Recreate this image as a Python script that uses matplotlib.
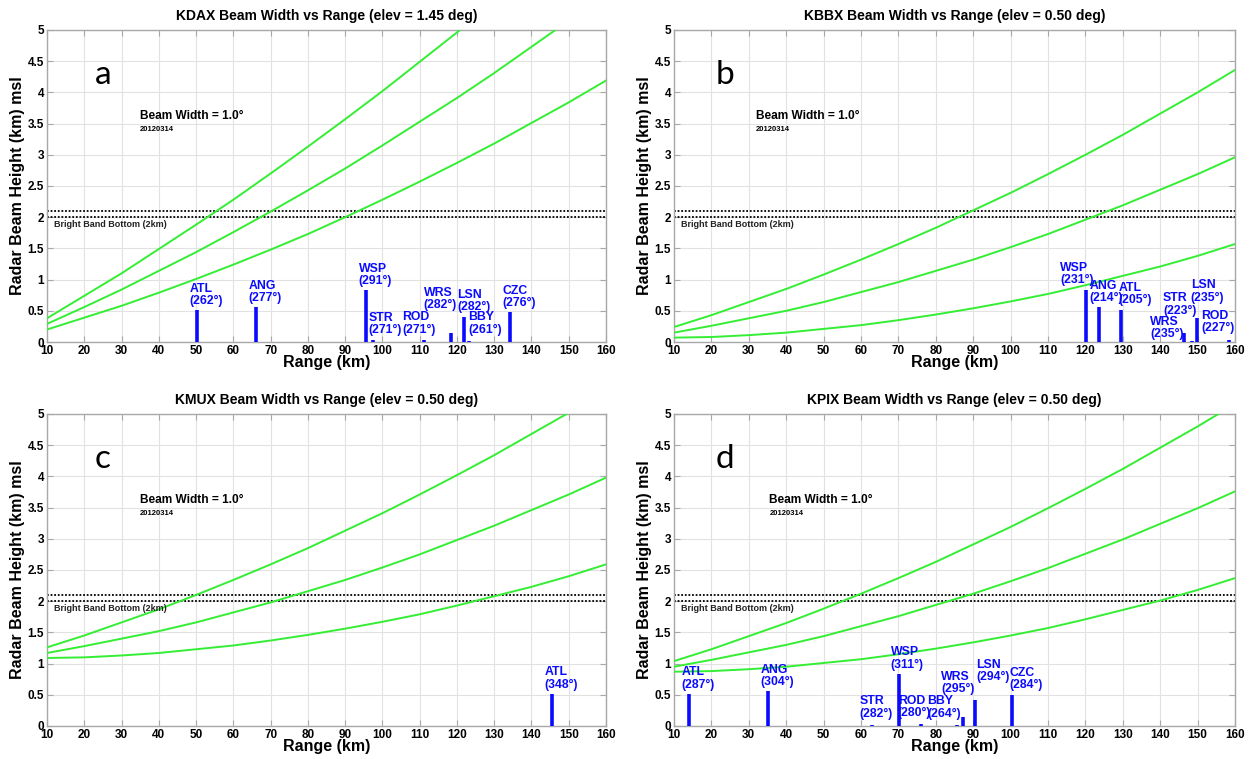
import matplotlib
matplotlib.use("Agg")
import matplotlib.pyplot as plt

plt.rcParams['font.family'] = ['Liberation Sans', 'DejaVu Sans']

# Range samples (km) for the beam-height curves
ranges = [10, 20, 30, 40, 50, 60, 70, 80, 90, 100, 110, 120, 130, 140, 150, 160]

# Beam heights (km msl): upper edge, centre, lower edge of a 1.0 deg beam
kdax_upper = [0.38, 0.74, 1.10, 1.49, 1.88, 2.28, 2.70, 3.13, 3.57, 4.02, 4.49, 4.96, 5.45]
kdax_center = [0.29, 0.56, 0.84, 1.14, 1.44, 1.76, 2.09, 2.43, 2.78, 3.15, 3.53, 3.91, 4.31, 4.73, 5.15]
kdax_lower = [0.20, 0.39, 0.58, 0.79, 1.01, 1.24, 1.48, 1.73, 2.00, 2.28, 2.57, 2.87, 3.18, 3.51, 3.84, 4.19]

kbbx_upper = [0.24, 0.43, 0.64, 0.85, 1.08, 1.32, 1.57, 1.83, 2.11, 2.39, 2.69, 3.00, 3.32, 3.66, 4.00, 4.36]
kbbx_center = [0.15, 0.26, 0.38, 0.50, 0.64, 0.80, 0.96, 1.14, 1.32, 1.52, 1.73, 1.96, 2.19, 2.44, 2.69, 2.96]
kbbx_lower = [0.07, 0.08, 0.11, 0.15, 0.21, 0.27, 0.35, 0.44, 0.54, 0.65, 0.77, 0.91, 1.06, 1.21, 1.38, 1.57]

kmux_upper = [1.26, 1.45, 1.66, 1.87, 2.10, 2.34, 2.59, 2.85, 3.13, 3.41, 3.71, 4.02, 4.34, 4.68, 5.02]
kmux_center = [1.17, 1.28, 1.40, 1.52, 1.66, 1.82, 1.98, 2.16, 2.34, 2.54, 2.75, 2.98, 3.21, 3.46, 3.71, 3.98]
kmux_lower = [1.09, 1.10, 1.13, 1.17, 1.23, 1.29, 1.37, 1.46, 1.56, 1.67, 1.79, 1.93, 2.08, 2.23, 2.40, 2.59]

kpix_upper = [1.04, 1.23, 1.44, 1.65, 1.88, 2.12, 2.37, 2.63, 2.91, 3.19, 3.49, 3.80, 4.12, 4.46, 4.80, 5.16]
kpix_center = [0.95, 1.06, 1.18, 1.30, 1.44, 1.60, 1.76, 1.94, 2.12, 2.32, 2.53, 2.76, 2.99, 3.24, 3.49, 3.76]
kpix_lower = [0.87, 0.88, 0.91, 0.95, 1.01, 1.07, 1.15, 1.24, 1.34, 1.45, 1.57, 1.71, 1.86, 2.01, 2.18, 2.37]

# Surface sites: range from radar (km), site altitude (km), azimuth (deg)
kdax_sites = ['ATL', 'ANG', 'WSP', 'STR', 'ROD', 'WRS', 'LSN', 'BBY', 'CZC']
kdax_site_range = [50.2, 66.0, 95.5, 97.6, 111.2, 118.3, 121.9, 123.3, 134.2]
kdax_site_alt = [0.51, 0.56, 0.83, 0.03, 0.04, 0.14, 0.40, 0.02, 0.48]
kdax_site_az = [262, 277, 291, 271, 271, 282, 282, 261, 276]

kbbx_sites = ['WSP', 'ANG', 'ATL', 'WRS', 'STR', 'LSN', 'ROD']
kbbx_site_range = [120.2, 123.7, 129.4, 146.4, 148.5, 149.8, 158.5]
kbbx_site_alt = [0.83, 0.56, 0.51, 0.14, 0.02, 0.39, 0.03]
kbbx_site_az = [231, 214, 205, 235, 223, 235, 227]

kmux_sites = ['ATL']
kmux_site_range = [145.4]
kmux_site_alt = [0.52]
kmux_site_az = [348]

kpix_sites = ['ATL', 'ANG', 'STR', 'WSP', 'ROD', 'BBY', 'WRS', 'LSN', 'CZC']
kpix_site_range = [14.1, 35.2, 62.9, 70.1, 76.0, 85.8, 87.4, 90.6, 100.3]
kpix_site_alt = [0.52, 0.56, 0.02, 0.84, 0.03, 0.02, 0.14, 0.41, 0.49]
kpix_site_az = [287, 304, 282, 311, 280, 264, 295, 294, 284]

radars = ['KDAX', 'KBBX', 'KMUX', 'KPIX']
elevations = ['1.45', '0.50', '0.50', '0.50']
panel_letters = ['a', 'b', 'c', 'd']
bright_band_km = 2.0
bright_band_top_km = 2.1

# label nudges (pixels) so crowded site names do not collide
kdax_label_shift = [(-7, 3), (-7, 3), (-7, 3), (-5, 4), (-22, 4), (-27, 22), (-7, 4), (-1, 5), (-7, 3)]
kbbx_label_shift = [(-26, 4), (-10, 3), (-2, 4), (-34, -7), (-29, 24), (-6, 14), (-28, 6)]
kmux_label_shift = [(-7, 3)]
kpix_label_shift = [(-8, 3), (-8, 3), (-12, 5), (-8, 3), (-23, 5), (-30, 5), (-22, 22), (1, 17), (-2, 4)]

panels = [
    (kdax_upper, kdax_center, kdax_lower, kdax_sites, kdax_site_range, kdax_site_alt, kdax_site_az, kdax_label_shift),
    (kbbx_upper, kbbx_center, kbbx_lower, kbbx_sites, kbbx_site_range, kbbx_site_alt, kbbx_site_az, kbbx_label_shift),
    (kmux_upper, kmux_center, kmux_lower, kmux_sites, kmux_site_range, kmux_site_alt, kmux_site_az, kmux_label_shift),
    (kpix_upper, kpix_center, kpix_lower, kpix_sites, kpix_site_range, kpix_site_alt, kpix_site_az, kpix_label_shift),
]

W, H = 1255, 759
fig = plt.figure(figsize=(W / 100, H / 100), dpi=100)
boxes = [(47, 30, 606, 342), (674, 30, 1235, 342), (47, 414, 606, 726), (674, 414, 1235, 726)]
beam_text_x = [35, 32, 35, 35.5]
letter_x = [22.9, 21.0, 22.9, 21.0]

green = '#33ee33'
blue = '#0a0aff'
spine_gray = '#a8a8a8'

for i, (up, mid, low, sites, srng, salt, saz, shift) in enumerate(panels):
    x0, y0, x1, y1 = boxes[i]
    ax = fig.add_axes([x0 / W, 1 - y1 / H, (x1 - x0) / W, (y1 - y0) / H])
    ax.set_xlim(10, 160)
    ax.set_ylim(0, 5)
    ax.set_xticks(range(10, 161, 10))
    ax.set_yticks([k * 0.5 for k in range(11)])
    ax.set_yticklabels(['%g' % (k * 0.5) for k in range(11)])
    ax.grid(True, color='#e2e2e2', lw=0.8)
    ax.set_axisbelow(True)
    for s in ax.spines.values():
        s.set_color(spine_gray)
        s.set_linewidth(1.0)
    ax.tick_params(direction='in', length=4, width=0.8, color=spine_gray,
                   top=True, right=True, labelsize=8.5, pad=2)
    for lab in ax.get_xticklabels() + ax.get_yticklabels():
        lab.set_fontweight('bold')

    for curve in (up, mid, low):
        ax.plot(ranges[:len(curve)], curve, color=green, lw=1.4, zorder=3)

    ax.axhline(bright_band_km, color='black', lw=1.3, ls=(0, (1, 1)), zorder=2)
    ax.axhline(bright_band_top_km, color='black', lw=1.3, ls=(0, (1, 1)), zorder=2)
    ax.text(11.9, 1.96, 'Bright Band Bottom (2km)', fontsize=6.5, fontweight='bold',
            color='#222222', va='top', ha='left')

    ax.vlines(srng, 0, salt, colors=blue, lw=2.6, zorder=4)
    for name, r, a, az, (dx, dy) in zip(sites, srng, salt, saz, shift):
        ax.annotate('%s\n(%d°)' % (name, az), xy=(r, a), xytext=(dx, dy),
                    textcoords='offset pixels', ha='left', va='bottom',
                    fontsize=8.8, fontweight='bold', color=blue,
                    linespacing=1.05, zorder=5)

    ax.text(beam_text_x[i], 3.52, 'Beam Width = 1.0°', fontsize=8.6, fontweight='bold',
            ha='left', va='bottom')
    ax.text(beam_text_x[i], 3.46, '20120314', fontsize=5.5, fontweight='bold',
            ha='left', va='top')
    ax.text(letter_x[i], 4.13, panel_letters[i], fontsize=24, family='Lato',
            ha='left', va='baseline')

    ax.set_title('%s Beam Width vs Range (elev = %s deg)' % (radars[i], elevations[i]),
                 fontsize=10, fontweight='bold', pad=7)
    ax.set_xlabel('Range (km)', fontsize=11.5, fontweight='bold', labelpad=-1)
    ax.set_ylabel('Radar Beam Height (km) msl', fontsize=11.5, fontweight='bold', labelpad=2)

fig.savefig('out.png', dpi=100)
